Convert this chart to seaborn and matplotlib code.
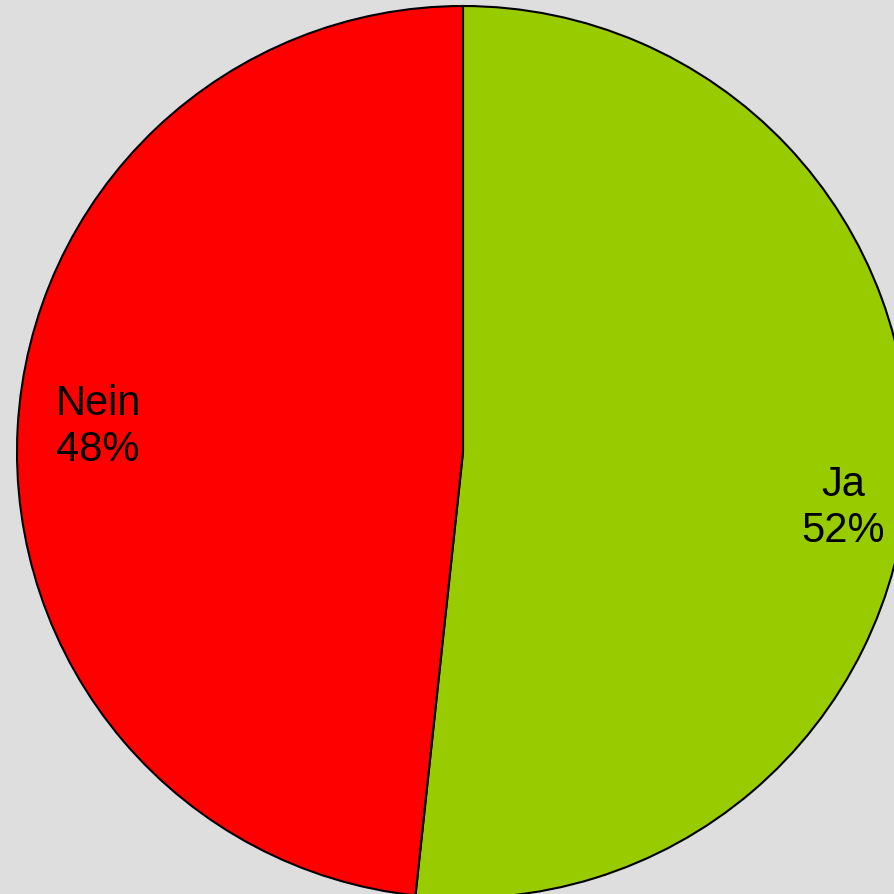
import matplotlib
matplotlib.use("Agg")
import matplotlib.pyplot as plt
import seaborn as sns

# Data
labels = ["Ja", "Nein"]
shares = [51.7, 48.3]
colors = ["#99CC00", "#FF0000"]
# label anchors (x, y in pie-radius units) to match the original placement
label_pos = [(0.853, -0.126), (-0.818, 0.056)]

sns.set_theme(style="white")
plt.rcParams['font.family'] = ['Liberation Sans', 'DejaVu Sans']

fig = plt.figure(figsize=(8.95, 8.94), dpi=100, facecolor="#DEDEDE")
# pie centre at (463, 452) px from top-left, radius ~446 px
r_px = 446
cx, cy = 463, 894 - 452
ax = fig.add_axes([(cx - r_px) / 895, (cy - r_px) / 894, 2 * r_px / 895, 2 * r_px / 894])
ax.set_facecolor("#DEDEDE")

total = sum(shares)
wedges, texts, autotexts = ax.pie(
    shares, colors=colors, startangle=90, counterclock=False,
    autopct="%.0f%%", pctdistance=0.83, radius=1,
    wedgeprops=dict(edgecolor="black", linewidth=1.5),
    textprops=dict(fontsize=30, color="black"),
)
for t, lab, s, pos in zip(autotexts, labels, shares, label_pos):
    t.set_text(f"{lab}\n{s / total * 100:.0f}%")
    t.set_multialignment("center")
    t.set_linespacing(1.2)
    t.set_position(pos)

ax.set_xlim(-1, 1)
ax.set_ylim(-1, 1)
ax.set_aspect("equal")
ax.axis("off")

fig.savefig("out.png", dpi=100, facecolor="#DEDEDE")
